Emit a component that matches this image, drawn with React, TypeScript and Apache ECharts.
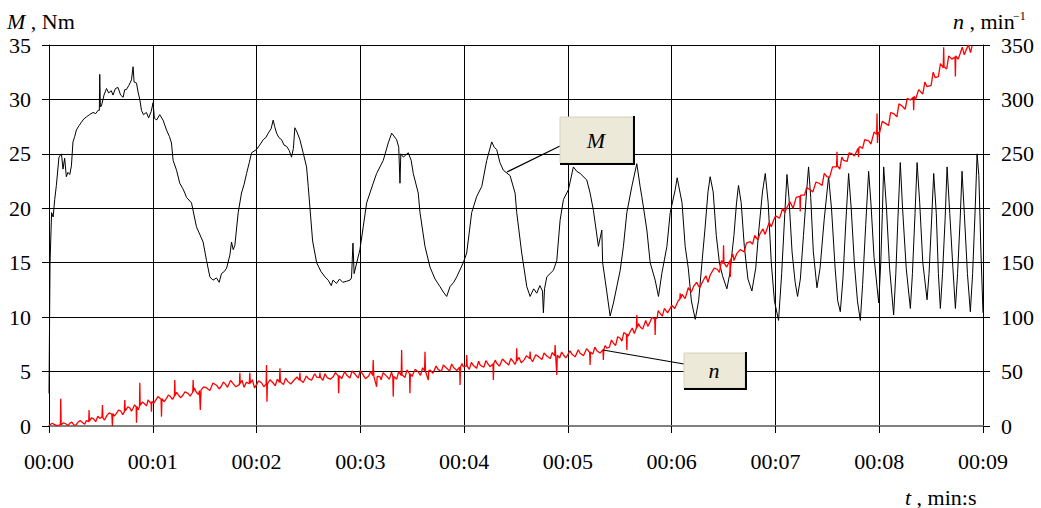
import React, { useEffect, useRef } from 'react';
import * as echarts from 'echarts';

const xTickLabels = ['00:00', '00:01', '00:02', '00:03', '00:04', '00:05', '00:06', '00:07', '00:08', '00:09'];

// Torque M (Nm) vs time (s)
const torqueData: [number, number][] = [
  [0, 3], [0.01, 15], [0.025, 19.6], [0.04, 19.2], [0.055, 20.8], [0.071, 22.1], [0.096, 24.7], [0.12, 25],
  [0.135, 23.6], [0.151, 24.6], [0.167, 22.9], [0.183, 23.3], [0.2, 23.1], [0.216, 23.9], [0.231, 26.1],
  [0.248, 26.6], [0.264, 27.2], [0.29, 27.6], [0.312, 27.9], [0.335, 28.2], [0.361, 28.4], [0.39, 28.6],
  [0.424, 28.8], [0.45, 28.7], [0.473, 29], [0.485, 29], [0.489, 32.3], [0.495, 29.3], [0.505, 29.4],
  [0.53, 30.4], [0.554, 31], [0.575, 30.6], [0.6, 30.8], [0.617, 30.4], [0.64, 31], [0.665, 31.1],
  [0.69, 30.4], [0.714, 30.2], [0.73, 30.9], [0.746, 30.9], [0.77, 31.3], [0.795, 31.8], [0.81, 33],
  [0.82, 31.6], [0.843, 31.5], [0.86, 30.6], [0.875, 30], [0.891, 29], [0.91, 28.6], [0.939, 28.8],
  [0.96, 28.3], [0.985, 28.9], [1.003, 29.7], [1.015, 28.3], [1.036, 28.1], [1.067, 28.6], [1.099, 28.1],
  [1.132, 27.2], [1.16, 26.6], [1.18, 26], [1.196, 24.4], [1.229, 23.5], [1.26, 22.3], [1.29, 21.8],
  [1.309, 21.4], [1.325, 21], [1.373, 20.5], [1.421, 18.3], [1.485, 16.9], [1.518, 15.2], [1.55, 13.7],
  [1.58, 13.4], [1.614, 13.6], [1.64, 13.2], [1.662, 14], [1.69, 14.2], [1.711, 14.5], [1.743, 15.7],
  [1.759, 16.9], [1.775, 16.2], [1.791, 16.6], [1.823, 19.6], [1.855, 21.4], [1.88, 22.2], [1.904, 23.2],
  [1.93, 24.2], [1.952, 25.1], [2, 25.4], [2.03, 25.8], [2.064, 26.3], [2.09, 26.5], [2.112, 26.9],
  [2.14, 27.3], [2.16, 28.1], [2.175, 27.5], [2.193, 26.9], [2.215, 26.5], [2.241, 26.3], [2.265, 25.8],
  [2.289, 25.7], [2.315, 25.3], [2.337, 24.7], [2.355, 25.5], [2.369, 27.4], [2.39, 27], [2.418, 26.3],
  [2.449, 25.1], [2.482, 23.8], [2.498, 22], [2.54, 17], [2.579, 15], [2.6, 14.6], [2.62, 14.2],
  [2.659, 13.7], [2.69, 13.4], [2.72, 12.9], [2.736, 13.4], [2.77, 13.1], [2.8, 13.5], [2.83, 13.2],
  [2.868, 13.3], [2.9, 13.4], [2.915, 13.6], [2.929, 16.8], [2.94, 14], [2.996, 16.2], [3.028, 18.3],
  [3.061, 20.5], [3.124, 22.3], [3.157, 23.2], [3.221, 24.4], [3.269, 26], [3.302, 26.9], [3.35, 26.3],
  [3.37, 25.6], [3.382, 22.3], [3.39, 25], [3.414, 24.7], [3.462, 25.1], [3.49, 24.4], [3.51, 23.2],
  [3.558, 21.4], [3.575, 19.6], [3.623, 16.5], [3.671, 14.6], [3.72, 13.5], [3.768, 12.8], [3.8, 12.3],
  [3.832, 11.9], [3.864, 12.8], [3.9, 13.2], [3.929, 13.7], [3.992, 15], [4.025, 15.9], [4.073, 19.6],
  [4.122, 21.1], [4.17, 22], [4.218, 24.4], [4.266, 26.1], [4.29, 25.6], [4.314, 25.4], [4.345, 24.2],
  [4.378, 23.5], [4.443, 23], [4.491, 21.4], [4.507, 19.6], [4.555, 15.9], [4.604, 12.8], [4.636, 11.9],
  [4.67, 12.6], [4.7, 12.2], [4.73, 12.9], [4.755, 12.4], [4.764, 10.4], [4.775, 12.6], [4.797, 13.7],
  [4.86, 14.3], [4.893, 15.2], [4.925, 18.9], [4.957, 20.8], [5.005, 21.7], [5.053, 23.8], [5.085, 23.4],
  [5.118, 23.2], [5.182, 22.6], [5.214, 21.4], [5.246, 19.8], [5.294, 16.5], [5.327, 18], [5.335, 15],
  [5.359, 13.4], [5.407, 10.1], [5.439, 11.3], [5.504, 14.3], [5.535, 16.5], [5.568, 19.6], [5.616, 22],
  [5.664, 24.1], [5.696, 22], [5.712, 21.1], [5.761, 18], [5.793, 15], [5.841, 13.4], [5.873, 11.9],
  [5.905, 14], [5.954, 16.5], [5.986, 19.6], [6.034, 21.7], [6.053, 22.8],
  [6.1, 20.5], [6.13, 16.5], [6.16, 14.5], [6.19, 11.5], [6.227, 9.8], [6.26, 11.5], [6.29, 14.8],
  [6.32, 18], [6.35, 21.5], [6.371, 22.9], [6.4, 21.5], [6.43, 17.5], [6.46, 15], [6.49, 13.8],
  [6.532, 12.6], [6.56, 14], [6.6, 17.5], [6.625, 20.5], [6.644, 22.1], [6.67, 20.5], [6.7, 16.5],
  [6.735, 13.5], [6.773, 12.4], [6.81, 14.5], [6.84, 18], [6.875, 21.5], [6.902, 23.2], [6.93, 20.5],
  [6.96, 15], [6.99, 11.5], [7.03, 9.7], [7.06, 14], [7.09, 19.5], [7.111, 23.1], [7.13, 21], [7.16, 16],
  [7.19, 13.2], [7.213, 11.9], [7.24, 13.5], [7.27, 17.5], [7.3, 21.5], [7.319, 23.8], [7.34, 21],
  [7.365, 16], [7.4, 12.7], [7.43, 14.5], [7.47, 19], [7.512, 22.9], [7.54, 20], [7.575, 14.5],
  [7.6, 11.5], [7.625, 10.5], [7.65, 13.5], [7.68, 19], [7.705, 23.2], [7.73, 20], [7.76, 15],
  [7.79, 11.5], [7.818, 9.7], [7.84, 13], [7.87, 18.5], [7.898, 23.4], [7.92, 20.5], [7.95, 15.5],
  [7.995, 11.3], [8.015, 15], [8.03, 19.5], [8.043, 23.8], [8.07, 20], [8.1, 14.5], [8.139, 10.2],
  [8.16, 14], [8.18, 19], [8.203, 24.2], [8.225, 20], [8.26, 14.5], [8.3, 10.8], [8.32, 14],
  [8.345, 19.5], [8.365, 24.2], [8.39, 20.5], [8.42, 15], [8.461, 11.6], [8.48, 14], [8.505, 19],
  [8.525, 23.2], [8.55, 19.5], [8.57, 14], [8.589, 10.8], [8.61, 14], [8.635, 19], [8.654, 23.8],
  [8.68, 19.5], [8.71, 14.5], [8.734, 10.8], [8.755, 14], [8.78, 19], [8.798, 23.4], [8.82, 19.5],
  [8.85, 14], [8.878, 10.5], [8.9, 14], [8.925, 20], [8.943, 25], [8.96, 23], [8.98, 16], [9.0, 10.4],
];

// Speed n (min^-1) vs time (s): trend points and the visible spikes
const speedTrend: [number, number][] = [
  [0, 0.5], [0.05, 1.5], [0.1, 0.8], [0.11, 1.5], [0.113, 25], [0.117, 1.2], [0.168, 1.6], [0.2, 2.5],
  [0.24, 1], [0.28, 3.5], [0.328, 2.8], [0.36, 5], [0.383, 4], [0.386, 14.7], [0.39, 4.5], [0.43, 6.5],
  [0.489, 7], [0.51, 8], [0.515, 19.3], [0.52, 7.5], [0.56, 10], [0.605, 11], [0.611, 0], [0.616, 11.5],
  [0.65, 11.7], [0.69, 14], [0.726, 13], [0.73, 23.9], [0.735, 14], [0.78, 16.5], [0.81, 16.3],
  [0.84, 17.5], [0.843, 3], [0.847, 18], [0.872, 18], [0.875, 39.8], [0.879, 19], [0.92, 20.5],
  [0.971, 22], [0.984, 21], [0.987, 13], [0.99, 22.5], [1.03, 24], [1.08, 24.5], [1.084, 8.6],
  [1.088, 25], [1.132, 25.4], [1.17, 27], [1.208, 27.5], [1.212, 42.3], [1.216, 28], [1.25, 28],
  [1.292, 28.5], [1.34, 30], [1.385, 31], [1.389, 42.3], [1.393, 31.5], [1.42, 31], [1.45, 32.5],
  [1.458, 14.7], [1.465, 33], [1.52, 35], [1.614, 37.5], [1.66, 36.5], [1.7, 38.5], [1.774, 39],
  [1.835, 38], [1.839, 49], [1.843, 39], [1.9, 40], [1.93, 39], [1.935, 49], [1.94, 39.2], [2.0, 38],
  [2.05, 39.5], [2.092, 38.6], [2.096, 56], [2.1, 22.3], [2.105, 38.6], [2.16, 39.5], [2.221, 40],
  [2.225, 53], [2.23, 40.7], [2.3, 41], [2.36, 42], [2.414, 42], [2.418, 49], [2.422, 42.3], [2.5, 43.5],
  [2.579, 45], [2.607, 44.5], [2.611, 49], [2.615, 45], [2.68, 44.5], [2.739, 45.3], [2.787, 46],
  [2.791, 30], [2.796, 46.3], [2.868, 46.8], [2.95, 47.5], [3.028, 46.8], [3.08, 46], [3.12, 46.5],
  [3.124, 60.6], [3.13, 45.8], [3.157, 36], [3.162, 45.5], [3.189, 45.3], [3.25, 46], [3.313, 45.5],
  [3.317, 27], [3.322, 45.5], [3.394, 46.5], [3.398, 69.8], [3.402, 47], [3.474, 48], [3.478, 30],
  [3.482, 48], [3.51, 48.4], [3.56, 49.5], [3.619, 50.5], [3.623, 68.3], [3.628, 50], [3.655, 42.3],
  [3.66, 51], [3.671, 51.4], [3.75, 52], [3.832, 53], [3.9, 53.5], [3.957, 54], [3.961, 37.7],
  [3.966, 54.5], [3.992, 54.5], [4.021, 55], [4.025, 65.2], [4.03, 55], [4.09, 55.5], [4.154, 56],
  [4.23, 57], [4.278, 57], [4.282, 42.3], [4.286, 57.5], [4.314, 57.6], [4.4, 58.5], [4.474, 59.1],
  [4.503, 59.5], [4.507, 71.4], [4.511, 60], [4.58, 61], [4.632, 62], [4.636, 68.3], [4.64, 62.2],
  [4.72, 63.5], [4.797, 64.3], [4.873, 64.5], [4.877, 74.4], [4.882, 64.5], [4.893, 46.8], [4.898, 65],
  [4.957, 65.2], [5.04, 66], [5.118, 66.8], [5.21, 67.5], [5.214, 56], [5.218, 68], [5.279, 69.2],
  [5.338, 70], [5.342, 60.6], [5.346, 70.5], [5.375, 71.4], [5.439, 76], [5.504, 80.6], [5.564, 84],
  [5.568, 69.8], [5.572, 84.5], [5.6, 86.6], [5.66, 90], [5.664, 102], [5.668, 90.5], [5.696, 91.2],
  [5.793, 95.8], [5.837, 98], [5.841, 83.6], [5.845, 99], [5.889, 103.5], [5.986, 108], [6.066, 115.7],
  [6.078, 116], [6.082, 122], [6.086, 117], [6.21, 128], [6.3, 133], [6.371, 138.7], [6.44, 144],
  [6.496, 149], [6.5, 166], [6.504, 150], [6.561, 152], [6.565, 137], [6.57, 153], [6.629, 158.6],
  [6.757, 169.3], [6.853, 177], [6.982, 189], [7.111, 201], [7.235, 211], [7.239, 197], [7.243, 212],
  [7.336, 217], [7.42, 223], [7.497, 229], [7.589, 238], [7.593, 252], [7.597, 239], [7.657, 244],
  [7.74, 250], [7.797, 255], [7.801, 247], [7.805, 256], [7.818, 256.6], [7.9, 262], [7.975, 268],
  [7.979, 287], [7.983, 260], [7.99, 270], [8.06, 278], [8.139, 287], [8.22, 294], [8.3, 299.5],
  [8.328, 302], [8.332, 290], [8.336, 303], [8.461, 311.7], [8.54, 320], [8.617, 329], [8.621, 348],
  [8.625, 330], [8.7, 337], [8.73, 339], [8.734, 321], [8.738, 340], [8.781, 342.4], [8.84, 346],
  [8.894, 349],
];

// Speed n: the small up/down swings of the noisy band
const speedRipple: [number, number][] = [
  [0.03, 2.5], [0.075, 0.3], [0.14, 3], [0.185, 0.5], [0.22, 3.5], [0.26, 0.8], [0.3, 5], [0.345, 1.5],
  [0.41, 7.5], [0.45, 4], [0.47, 9], [0.535, 5.5], [0.58, 12], [0.63, 9], [0.67, 14.5], [0.71, 10.5],
  [0.76, 17.5], [0.795, 13.5], [0.825, 19.5], [0.86, 15], [0.9, 22], [0.94, 18.5], [0.955, 24],
  [1.01, 21], [1.05, 27], [1.11, 22.5], [1.15, 28.5], [1.19, 24.5], [1.23, 31], [1.27, 26], [1.31, 31.5],
  [1.36, 27.5], [1.4, 35], [1.44, 29], [1.49, 36], [1.55, 32.5], [1.58, 39.5], [1.64, 34], [1.68, 40.5],
  [1.72, 35.5], [1.75, 42], [1.8, 36], [1.86, 42], [1.88, 35.5], [1.96, 42.5], [1.98, 35],
  [2.02, 41.5], [2.07, 36], [2.13, 42.5], [2.18, 37], [2.2, 43], [2.26, 38], [2.28, 44], [2.33, 38.5],
  [2.39, 45], [2.45, 40], [2.48, 46], [2.53, 42], [2.56, 48], [2.64, 42], [2.66, 48], [2.71, 43],
  [2.76, 49], [2.82, 43.5], [2.85, 50], [2.9, 44], [2.92, 50.5], [2.98, 44], [3.0, 51],
  [3.05, 43.5], [3.1, 50], [3.2, 42.5], [3.22, 49], [3.28, 43], [3.3, 49.5], [3.35, 43], [3.37, 50],
  [3.43, 44.5], [3.45, 51.5], [3.5, 45.5], [3.53, 52], [3.58, 46.5], [3.6, 53.5], [3.7, 48.5], [3.73, 55],
  [3.78, 50], [3.8, 56], [3.86, 50.5], [3.88, 57], [3.93, 51], [3.98, 57.5],
  [4.05, 52], [4.07, 58.5], [4.12, 53], [4.14, 59.5], [4.19, 54], [4.21, 60], [4.25, 54.5], [4.3, 60.5],
  [4.34, 55], [4.37, 61.5], [4.43, 56], [4.45, 62], [4.49, 56.5], [4.53, 63], [4.55, 58], [4.6, 64.5],
  [4.66, 59], [4.69, 65.5], [4.75, 61], [4.77, 67], [4.83, 62], [4.85, 67.5], [4.92, 62.5], [4.94, 68],
  [4.98, 62.5],
  [5.02, 69], [5.07, 63.5], [5.1, 70], [5.15, 64.5], [5.18, 71], [5.24, 66], [5.26, 72.5], [5.31, 67],
  [5.36, 74], [5.4, 72.5], [5.42, 79], [5.46, 74], [5.48, 82], [5.52, 78], [5.54, 86], [5.58, 82.5],
  [5.62, 90], [5.64, 85], [5.68, 94], [5.72, 89], [5.75, 97], [5.77, 91.5], [5.81, 100], [5.86, 99],
  [5.87, 106], [5.91, 101], [5.93, 108], [5.96, 104], [6.0, 111], [6.03, 108],
  [6.1, 121], [6.13, 117], [6.16, 127], [6.19, 123], [6.24, 132], [6.27, 127], [6.33, 138], [6.35, 132],
  [6.41, 145], [6.46, 141], [6.48, 152], [6.53, 146], [6.59, 158], [6.6, 152], [6.66, 162], [6.7, 160],
  [6.72, 168], [6.78, 167], [6.8, 175], [6.83, 171], [6.88, 181], [6.9, 176], [6.94, 187], [6.96, 183],
  [7.0, 193],
  [7.04, 191], [7.07, 200], [7.09, 196], [7.14, 206], [7.17, 200], [7.2, 210], [7.28, 212], [7.3, 219],
  [7.36, 215], [7.39, 224], [7.45, 221], [7.47, 232], [7.52, 228], [7.55, 238], [7.62, 236], [7.64, 247],
  [7.69, 243], [7.71, 251], [7.76, 248], [7.84, 255], [7.86, 263], [7.92, 259], [7.95, 270],
  [8.0, 268], [8.03, 280], [8.09, 276], [8.11, 288], [8.17, 284], [8.19, 296], [8.25, 291], [8.27, 301],
  [8.35, 300], [8.38, 309], [8.42, 305], [8.44, 316], [8.5, 313], [8.52, 325], [8.57, 321], [8.59, 333],
  [8.65, 328], [8.67, 340], [8.76, 337], [8.8, 348], [8.82, 341], [8.86, 350], [8.88, 343],
];

const FONT = 'Liberation Serif';

function buildOption() {
  const speedData = [...speedTrend, ...speedRipple].sort((a, b) => a[0] - b[0]);
  const base = { fontFamily: FONT, fontSize: 22, fontStyle: 'normal', fontWeight: 'normal' };
  const labelStyle = { ...base, color: '#000' };
  const boxFill = '#ECE9D8';
  const rich = { i: { ...base, fontStyle: 'italic' }, r: { ...base } };
  const italic = { ...base, fontStyle: 'italic' };
  return {
    animation: false,
    backgroundColor: '#ffffff',
    textStyle: { fontFamily: FONT },
    grid: { left: 49, right: 58, top: 45, bottom: 82, containLabel: false },
    xAxis: {
      type: 'value', min: 0, max: 9, interval: 1,
      axisLine: { show: true, onZero: false, lineStyle: { color: '#808080', width: 2 } },
      axisTick: { show: true, length: 7, lineStyle: { color: '#000' } },
      axisLabel: { ...labelStyle, margin: 24, formatter: (v: number) => xTickLabels[Math.round(v)] ?? '' },
      splitLine: { show: true, lineStyle: { color: '#000', width: 1 } },
    },
    yAxis: [
      {
        type: 'value', min: 0, max: 35, interval: 5, position: 'left',
        axisLine: { show: true, onZero: false, lineStyle: { color: '#000' } },
        axisTick: { show: true, length: 7, lineStyle: { color: '#000' } },
        axisLabel: { ...labelStyle, margin: 18 },
        splitLine: { show: true, lineStyle: { color: '#000', width: 1 } },
      },
      {
        type: 'value', min: 0, max: 350, interval: 50, position: 'right',
        axisLine: { show: true, onZero: false, lineStyle: { color: '#000' } },
        axisTick: { show: true, length: 7, lineStyle: { color: '#000' } },
        axisLabel: { ...labelStyle, margin: 18 },
        splitLine: { show: false },
      },
    ],
    series: [
      { type: 'line', yAxisIndex: 0, data: torqueData, showSymbol: false, lineStyle: { color: '#000', width: 1 }, z: 2 },
      { type: 'line', yAxisIndex: 1, data: speedData, showSymbol: false, lineStyle: { color: '#ff0000', width: 1.3 }, z: 3 },
    ],
    graphic: [
      { type: 'text', x: 7, y: 21, z: 50, style: { ...base, text: '{i|M}{r| , Nm}', fill: '#000', verticalAlign: 'middle', rich } },
      { type: 'text', x: 953, y: 21, z: 50, style: { ...base, text: '{i|n}{r| , min}', fill: '#000', verticalAlign: 'middle', rich } },
      { type: 'text', x: 1013, y: 16, z: 50, style: { ...base, fontSize: 12, text: '−1', fill: '#000', verticalAlign: 'middle' } },
      { type: 'text', x: 905, y: 497, z: 50, style: { ...base, text: '{i|t}{r| , min:s}', fill: '#000', verticalAlign: 'middle', rich } },
      { type: 'line', z: 100, shape: { x1: 507, y1: 172, x2: 560, y2: 146 }, style: { stroke: '#000', lineWidth: 1.2 } },
      { type: 'rect', z: 100, shape: { x: 560, y: 117, width: 73, height: 46 }, style: { fill: boxFill, stroke: '#d6d2c2', lineWidth: 1 } },
      { type: 'line', z: 101, shape: { x1: 634, y1: 116, x2: 634, y2: 164 }, style: { stroke: '#000', lineWidth: 2 } },
      { type: 'line', z: 101, shape: { x1: 560, y1: 164, x2: 635, y2: 164 }, style: { stroke: '#000', lineWidth: 2 } },
      { type: 'text', x: 596, y: 140, z: 102, style: { ...italic, text: 'M', fill: '#000', align: 'center', verticalAlign: 'middle' } },
      { type: 'line', z: 100, shape: { x1: 603, y1: 350, x2: 684, y2: 364 }, style: { stroke: '#000', lineWidth: 1.2 } },
      { type: 'rect', z: 100, shape: { x: 684, y: 353, width: 61, height: 35 }, style: { fill: boxFill, stroke: '#d6d2c2', lineWidth: 1 } },
      { type: 'line', z: 101, shape: { x1: 746, y1: 352, x2: 746, y2: 389 }, style: { stroke: '#000', lineWidth: 2 } },
      { type: 'line', z: 101, shape: { x1: 684, y1: 389, x2: 747, y2: 389 }, style: { stroke: '#000', lineWidth: 2 } },
      { type: 'text', x: 714, y: 370, z: 102, style: { ...italic, text: 'n', fill: '#000', align: 'center', verticalAlign: 'middle' } },
    ],
  };
}

export default function App() {
  const ref = useRef<HTMLDivElement>(null);

  useEffect(() => {
    if (!ref.current) return;
    const host = ref.current;
    const chart = echarts.init(host, null, { renderer: 'svg' });
    chart.setOption(buildOption());
    let alive = true;
    const redraw = () => {
      if (!alive) return;
      chart.clear();
      chart.setOption(buildOption());
    };
    const fontsApi = (document as any).fonts;
    if (fontsApi && fontsApi.load) {
      Promise.all([
        fontsApi.load('22px "Liberation Serif"', '0123456789:Nmins'),
        fontsApi.load('italic 22px "Liberation Serif"', 'Mnt'),
      ]).then(redraw, redraw);
    }
    const timer = window.setTimeout(redraw, 150);
    return () => {
      alive = false;
      window.clearTimeout(timer);
      chart.dispose();
    };
  }, []);

  return (
    <>
      <span
        style={{ position: 'fixed', left: 0, top: 0, fontFamily: '"Liberation Serif", serif', fontSize: 22, color: '#fff', zIndex: -1 }}
        aria-hidden="true"
      >
        0
      </span>
      <div
        ref={ref}
        style={{ position: 'fixed', left: 0, top: 0, width: 1041, height: 508, background: '#fff' }}
      />
    </>
  );
}
